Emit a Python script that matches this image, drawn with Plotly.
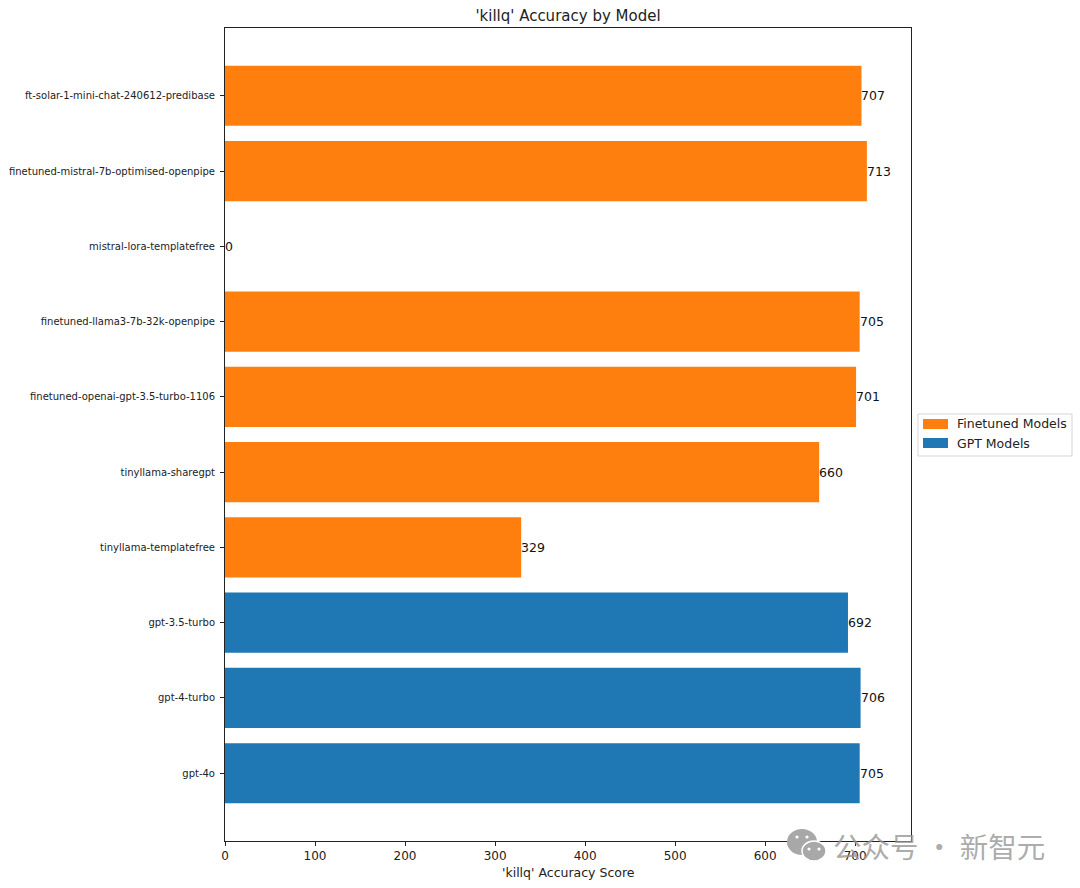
import plotly.graph_objects as go

# bottom to top, as on the y axis
gpt_models = ['gpt-4o', 'gpt-4-turbo', 'gpt-3.5-turbo']
gpt_scores = [705, 706, 692]
ft_models = ['tinyllama-templatefree', 'tinyllama-sharegpt', 'finetuned-openai-gpt-3.5-turbo-1106',
             'finetuned-llama3-7b-32k-openpipe', 'mistral-lora-templatefree',
             'finetuned-mistral-7b-optimised-openpipe', 'ft-solar-1-mini-chat-240612-predibase']
ft_scores = [329, 660, 701, 705, 0, 713, 707]
x_ticks = [0, 100, 200, 300, 400, 500, 600, 700]

W, H = 1080, 888
L, R, T, B = 225, 911, 28, 841
ORANGE, BLUE = '#ff7f0e', '#1f77b4'

fig = go.Figure()
fig.add_bar(y=ft_models, x=ft_scores, name='Finetuned Models', orientation='h',
            marker=dict(color=ORANGE, line_width=0), width=0.8, showlegend=False)
fig.add_bar(y=gpt_models, x=gpt_scores, name='GPT Models', orientation='h',
            marker=dict(color=BLUE, line_width=0), width=0.8, showlegend=False)

# value labels just right of each bar end
for m, s in zip(gpt_models + ft_models, gpt_scores + ft_scores):
    fig.add_annotation(x=s, y=m, text=str(s), showarrow=False, xanchor='left', xshift=-2,
                       font=dict(size=12.5, color='#111111'))

fig.update_layout(
    width=W, height=H,
    margin=dict(l=L, r=W - R, t=T, b=H - B, pad=0),
    paper_bgcolor='white', plot_bgcolor='white',
    font=dict(family='DejaVu Sans', color='#222222'),
    title=dict(text="'killq' Accuracy by Model", x=(L + R) / 2 / W, xanchor='center',
               y=1 - 16 / H, yanchor='middle', font=dict(size=15)),
)
fig.update_xaxes(range=[0, 762], tickvals=x_ticks, ticks='outside', ticklen=4, tickcolor='#222222',
                 tickfont=dict(size=12), showgrid=False, zeroline=False, automargin=False,
                 showline=True, linecolor='#222222', linewidth=1, mirror=True)
fig.update_yaxes(categoryorder='array', categoryarray=gpt_models + ft_models, range=[-0.9, 9.9],
                 ticks='outside', ticklen=4, tickcolor='#222222', tickfont=dict(size=10),
                 ticklabelstandoff=3, showgrid=False, zeroline=False, automargin=False,
                 showline=True, linecolor='#222222', linewidth=1, mirror=True)


def px_x(v):
    return (v - L) / (R - L)


def px_y(v):
    return (B - v) / (B - T)


def box(x0, y0, x1, y1, **kw):
    fig.add_shape(type='rect', xref='paper', yref='paper', layer='above',
                  x0=px_x(x0), x1=px_x(x1), y0=px_y(y1), y1=px_y(y0), **kw)


def dot(cx, cy, rx, ry, color, **kw):
    fig.add_shape(type='circle', xref='paper', yref='paper', layer='above',
                  x0=px_x(cx - rx), x1=px_x(cx + rx), y0=px_y(cy + ry), y1=px_y(cy - ry),
                  fillcolor=color, **kw)


# axis title sits closer to the ticks than plotly puts it
fig.add_annotation(xref='paper', yref='paper', x=0.5, y=px_y(873), text="'killq' Accuracy Score",
                   showarrow=False, yanchor='middle', font=dict(size=12.5))

# legend with the wide swatches of the original
box(918, 414, 1072, 456, fillcolor='white', line=dict(color='#d5d5d5', width=1))
for y, color, label in [(424, ORANGE, 'Finetuned Models'), (443, BLUE, 'GPT Models')]:
    box(923, y - 5, 948, y + 5, fillcolor=color, line_width=0)
    fig.add_annotation(xref='paper', yref='paper', x=px_x(957), y=px_y(y), text=label, showarrow=False,
                       xanchor='left', yanchor='middle', xshift=-2, font=dict(size=12.5))

# watermark: chat bubbles and account name
GREY = '#a8a8a8'
dot(802, 842, 15, 13, GREY, line_width=0)
dot(814, 851, 12, 10, GREY, line=dict(color='white', width=1.5))
for cx, cy in [(797, 837), (807, 837), (809, 849), (819, 849)]:
    dot(cx, cy, 1.6, 1.6, 'white', line_width=0)
fig.add_annotation(xref='paper', yref='paper', x=px_x(831), y=px_y(845),
                   text='公众号 · 新智元', showarrow=False, xanchor='left', yanchor='middle',
                   font=dict(family='Noto Sans CJK SC', size=28.5, color='rgba(150,150,150,0.8)'))

fig.write_html("out.html", config={'displayModeBar': False},
               post_script="document.body.style.margin='0';")
